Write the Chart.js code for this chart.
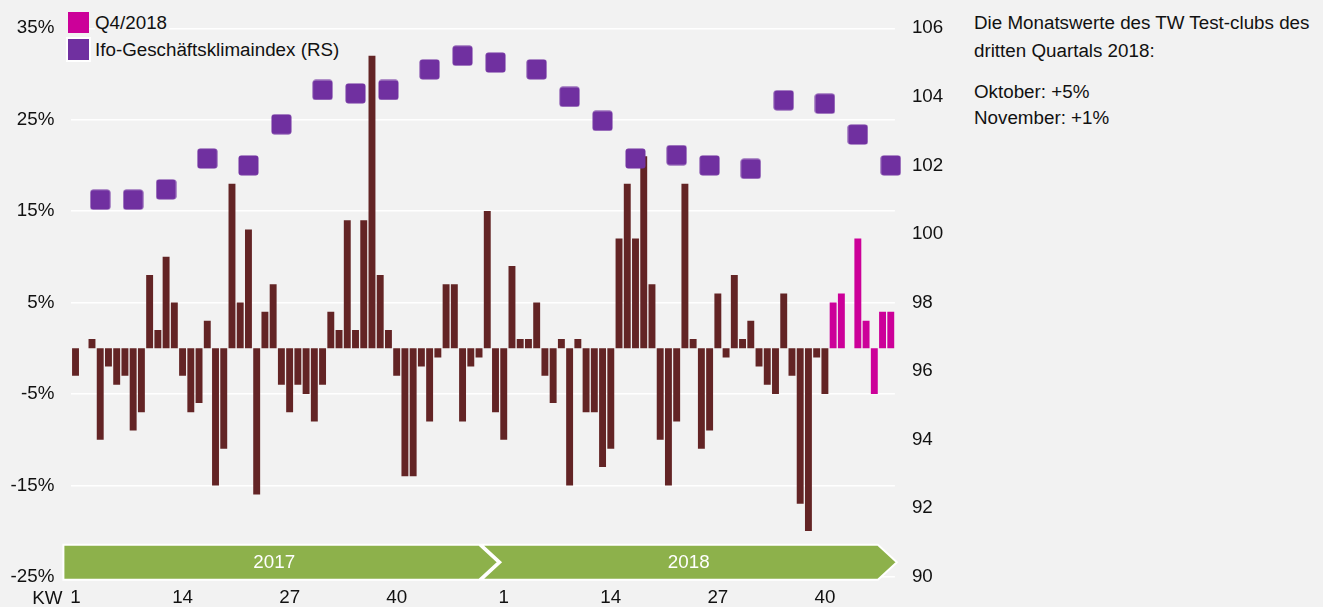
<!DOCTYPE html>
<html>
<head>
<meta charset="utf-8">
<script src="https://cdn.jsdelivr.net/npm/chart.js@4/dist/chart.umd.min.js"></script>
<style>
  body { margin: 0; background: #f2f2f2; font-family: 'Liberation Sans', Arial, sans-serif; color: #111; }
  #wrap { position: relative; width: 1323px; height: 607px; overflow: hidden; }
  #chart-box { position: absolute; left: 0; top: 0; width: 960px; height: 607px; }
  .leg-row { position: absolute; left: 68px; height: 21px; display: flex; align-items: center; font-size: 18.8px; }
  .leg-sq { width: 21px; height: 21px; }
  .leg-txt { margin-left: 6px; padding-right: 2px; background: #f2f2f2; line-height: 21px; }
  #note { position: absolute; left: 974px; top: 9px; font-size: 18.8px; }
  #note p { margin: 0; }
</style>
</head>
<body>
<div id="wrap">
  <div id="chart-box"><canvas id="tw-chart"></canvas></div>
  <div class="leg-row" style="top:12px"><div class="leg-sq" style="background:#cc0099"></div><span class="leg-txt">Q4/2018</span></div>
  <div class="leg-row" style="top:39px"><div class="leg-sq" style="background:#7030a0;box-shadow:0 0 0 2px #fff"></div><span class="leg-txt">Ifo-Geschäftsklimaindex (RS)</span></div>
  <div id="note">
    <p style="line-height:28px">Die Monatswerte des TW Test-clubs des<br>dritten Quartals 2018:</p>
    <p style="line-height:26.7px;margin-top:13.5px">Oktober: +5%<br>November: +1%</p>
  </div>
</div>
<script>
// TW Test-club, Veränderung je Kalenderwoche (%)
const years = ['2017', '2018'];
const tw2017 = [-3, 0, 1, -10, -2, -4, -3, -9, -7, 8, 2, 10, 5, -3, -7, -6, 3, -15, -11, 18,
  5, 13, -16, 4, 7, -4, -7, -4, -5, -8, -4, 4, 2, 14, 2, 14, 32, 8, 2, -3,
  -14, -14, -2, -8, -1, 7, 7, -8, -2, -1, 15, -7];
const tw2018 = [-10, 9, 1, 1, 5, -3, -6, 1, -15, 1, -7, -7, -13, -11, 12, 18, 12, 21, 7, -10,
  -15, -8, 18, 1, -11, -9, 6, -1, 8, 1, 3, -2, -4, -5, 6, -3, -17, -20, -1, -5,
  5, 6, 0, 12, 3, -5, 4, 4];
const q4FirstWeek = 41; // ab hier Q4/2018

// Ifo-Geschäftsklimaindex, Monatswerte (rechte Skala), je an einer KW
const ifoWeeks = ['2017-4', '2017-8', '2017-12', '2017-17', '2017-22', '2017-26', '2017-31', '2017-35',
  '2017-39', '2017-44', '2017-48', '2017-52', '2018-5', '2018-9', '2018-13', '2018-17', '2018-22',
  '2018-26', '2018-31', '2018-35', '2018-40', '2018-44', '2018-48'];
const ifoValues = [101.0, 101.0, 101.3, 102.2, 102.0, 103.2, 104.2, 104.1, 104.2, 104.8, 105.2, 105.0,
  104.8, 104.0, 103.3, 102.2, 102.3, 102.0, 101.9, 103.9, 103.8, 102.9, 102.0];

const weekLabels = [];
const weekValues = [];
[tw2017, tw2018].forEach((vals, yi) => {
  vals.forEach((v, i) => { weekLabels.push(years[yi] + '-' + (i + 1)); weekValues.push(v); });
});
const isQ4 = lbl => lbl.startsWith('2018-') && +lbl.split('-')[1] >= q4FirstWeek;

const FONT = { family: "'Liberation Sans', Arial, sans-serif", size: 18.8 };

// rounded square marker for the ifo points
const sq = document.createElement('canvas');
sq.width = 21; sq.height = 21;
(function () {
  const c = sq.getContext('2d');
  c.fillStyle = '#7030a0';
  c.beginPath();
  c.roundRect(0.5, 0.5, 20, 20, 3);
  c.fill();
})();

const bannerPlugin = {
  id: 'yearBanner',
  afterDatasetsDraw(chart) {
    const { ctx, chartArea, scales } = chart;
    const x = scales.x;
    const top = chartArea.bottom - 32, bot = chartArea.bottom + 3, mid = (top + bot) / 2;
    const split = (x.getPixelForValue(tw2017.length - 1) + x.getPixelForValue(tw2017.length)) / 2;
    const left = chartArea.left - 8;
    const tip1 = split - 1.5, tip2 = chartArea.right + 2, d = 19;
    ctx.save();
    ctx.fillStyle = '#8db14b';
    ctx.strokeStyle = '#ffffff';
    ctx.lineWidth = 2;
    ctx.lineJoin = 'miter';
    ctx.beginPath();
    ctx.moveTo(left, top); ctx.lineTo(tip1 - d, top); ctx.lineTo(tip1, mid);
    ctx.lineTo(tip1 - d, bot); ctx.lineTo(left, bot); ctx.closePath();
    ctx.fill(); ctx.stroke();
    ctx.beginPath();
    ctx.moveTo(split - d + 1, top); ctx.lineTo(tip2 - d, top); ctx.lineTo(tip2, mid);
    ctx.lineTo(tip2 - d, bot); ctx.lineTo(split - d + 1, bot); ctx.lineTo(split + 1, mid); ctx.closePath();
    ctx.fill(); ctx.stroke();
    ctx.fillStyle = '#ffffff';
    ctx.font = FONT.size + 'px ' + FONT.family;
    ctx.textAlign = 'center';
    ctx.textBaseline = 'middle';
    ctx.fillText(years[0], (left + tip1 - d) / 2 + 3, mid + 1);
    ctx.fillText(years[1], (split - d + tip2) / 2, mid + 1);
    // Achsenbeschriftung KW
    ctx.fillStyle = '#111';
    ctx.textAlign = 'right';
    ctx.fillText('KW', chartArea.left - 9, 599);
    ctx.restore();
  }
};

new Chart(document.getElementById('tw-chart').getContext('2d'), {
  data: {
    labels: weekLabels,
    datasets: [
      {
        type: 'line',
        label: 'Ifo-Geschäftsklimaindex (RS)',
        data: ifoWeeks.map((w, i) => ({ x: w, y: ifoValues[i] })),
        yAxisID: 'y1',
        showLine: false,
        pointStyle: sq,
        pointRadius: 10,
        order: 0
      },
      {
        type: 'bar',
        label: 'TW Test-club',
        data: weekLabels.map((l, i) => isQ4(l) ? null : weekValues[i]),
        backgroundColor: '#632425',
        yAxisID: 'y',
        grouped: false,
        barPercentage: 0.84,
        categoryPercentage: 1,
        order: 1
      },
      {
        type: 'bar',
        label: 'Q4/2018',
        data: weekLabels.map((l, i) => isQ4(l) ? weekValues[i] : null),
        backgroundColor: '#cc0099',
        yAxisID: 'y',
        grouped: false,
        barPercentage: 0.84,
        categoryPercentage: 1,
        order: 1
      }
    ]
  },
  options: {
    responsive: true,
    maintainAspectRatio: false,
    animation: false,
    layout: { padding: { top: 28, left: 0, right: 0, bottom: 0 } },
    plugins: { legend: { display: false }, tooltip: { enabled: false } },
    scales: {
      x: {
        grid: { display: false, drawTicks: false },
        border: { display: false },
        ticks: {
          autoSkip: false, maxRotation: 0, padding: 10, color: '#111', font: FONT,
          callback(val) {
            const wk = +this.getLabelForValue(val).split('-')[1];
            return (wk - 1) % 13 === 0 ? String(wk) : '';
          }
        },
        afterFit(s) { s.height = 30.2; }
      },
      y: {
        position: 'left',
        min: -25, max: 35,
        ticks: { stepSize: 10, padding: 17, color: '#111', font: FONT, callback: v => v + '%' },
        grid: { color: '#ffffff', lineWidth: 1.5, drawTicks: false },
        border: { display: false },
        afterFit(s) { s.width = 71.4; }
      },
      y1: {
        position: 'right',
        min: 90, max: 106,
        ticks: { stepSize: 2, padding: 17, color: '#111', font: FONT },
        grid: { display: false, drawTicks: false },
        border: { display: false },
        afterFit(s) { s.width = 65.1; }
      }
    }
  },
  plugins: [bannerPlugin]
});
</script>
</body>
</html>
